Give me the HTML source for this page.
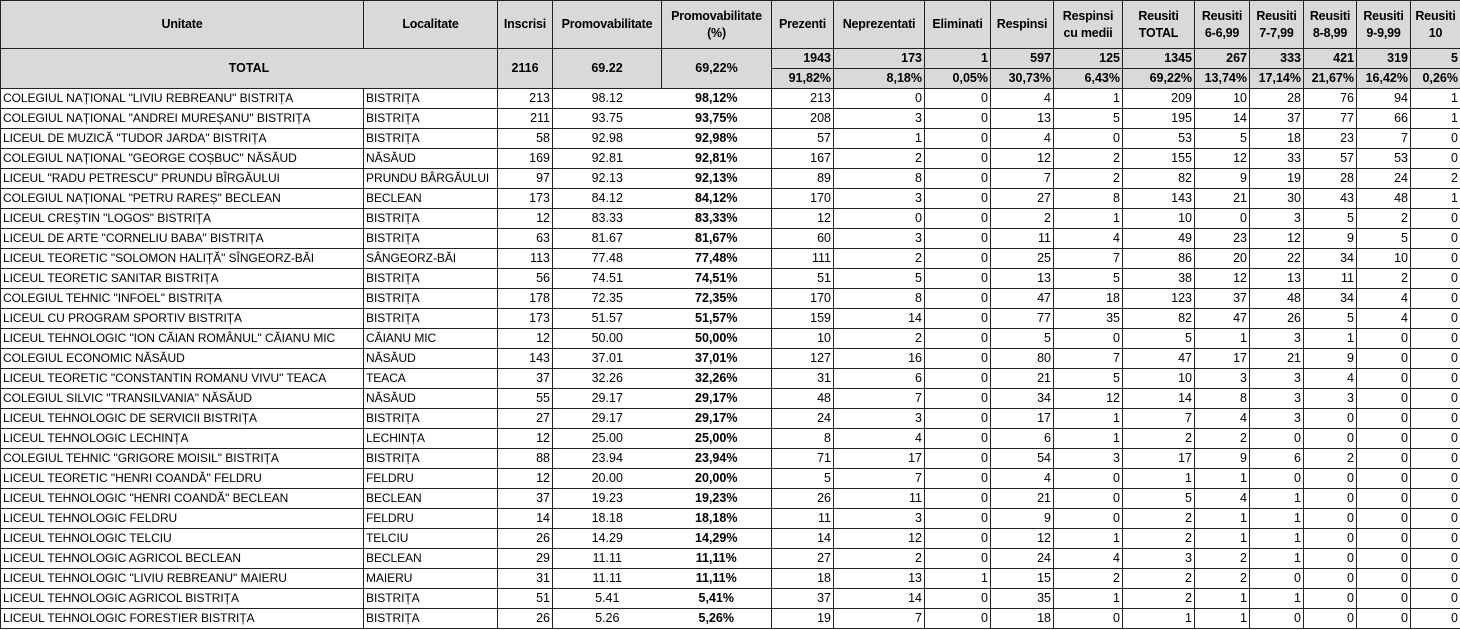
<!DOCTYPE html>
<html><head><meta charset="utf-8"><style>
html,body{margin:0;padding:0;background:#fff;width:1460px;height:630px;overflow:hidden}
table{border-collapse:collapse;table-layout:fixed;width:1460px;font-family:"Liberation Sans",sans-serif;font-size:12.5px;color:#000}
td{border:1px solid #222;padding:0 2px;height:19px;line-height:19px;white-space:nowrap;overflow:hidden;text-align:right}
thead td{background:#d9d9d9;font-weight:bold;text-align:center;line-height:17px;font-size:12.5px;letter-spacing:-0.2px}
tr.t td{background:#d9d9d9;font-weight:bold;font-size:12.5px}
td.l{text-align:left;font-size:12px;letter-spacing:-0.05px}
td.c{text-align:center}
td.b{text-align:center;font-weight:bold}
tbody td.nb{border-right:none}
tbody td.nl{border-left:none}
</style></head><body>
<table>
<colgroup><col style="width:363px"><col style="width:134px"><col style="width:55px"><col style="width:109px"><col style="width:110px"><col style="width:62px"><col style="width:91px"><col style="width:66px"><col style="width:63px"><col style="width:69px"><col style="width:72px"><col style="width:55px"><col style="width:54px"><col style="width:53px"><col style="width:54px"><col style="width:50px"></colgroup>
<thead><tr style="height:48px"><td>Unitate</td><td>Localitate</td><td>Inscrisi</td><td>Promovabilitate</td><td>Promovabilitate<br>(%)</td><td>Prezenti</td><td>Neprezentati</td><td>Eliminati</td><td>Respinsi</td><td>Respinsi<br>cu medii</td><td>Reusiti<br>TOTAL</td><td>Reusiti<br>6-6,99</td><td>Reusiti<br>7-7,99</td><td>Reusiti<br>8-8,99</td><td>Reusiti<br>9-9,99</td><td>Reusiti<br>10</td></tr></thead>
<tbody>
<tr class="t"><td colspan="2" rowspan="2" class="c">TOTAL</td><td rowspan="2" class="c">2116</td><td rowspan="2" class="c">69.22</td><td rowspan="2" class="c">69,22%</td><td>1943</td><td>173</td><td>1</td><td>597</td><td>125</td><td>1345</td><td>267</td><td>333</td><td>421</td><td>319</td><td>5</td></tr>
<tr class="t"><td>91,82%</td><td>8,18%</td><td>0,05%</td><td>30,73%</td><td>6,43%</td><td>69,22%</td><td>13,74%</td><td>17,14%</td><td>21,67%</td><td>16,42%</td><td>0,26%</td></tr>
<tr><td class="l">COLEGIUL NAȚIONAL "LIVIU REBREANU" BISTRIȚA</td><td class="l">BISTRIȚA</td><td>213</td><td class="c nb">98.12</td><td class="b nl">98,12%</td><td>213</td><td>0</td><td>0</td><td>4</td><td>1</td><td>209</td><td>10</td><td>28</td><td>76</td><td>94</td><td>1</td></tr>
<tr><td class="l">COLEGIUL NAȚIONAL "ANDREI MUREȘANU" BISTRIȚA</td><td class="l">BISTRIȚA</td><td>211</td><td class="c nb">93.75</td><td class="b nl">93,75%</td><td>208</td><td>3</td><td>0</td><td>13</td><td>5</td><td>195</td><td>14</td><td>37</td><td>77</td><td>66</td><td>1</td></tr>
<tr><td class="l">LICEUL DE MUZICĂ "TUDOR JARDA" BISTRIȚA</td><td class="l">BISTRIȚA</td><td>58</td><td class="c nb">92.98</td><td class="b nl">92,98%</td><td>57</td><td>1</td><td>0</td><td>4</td><td>0</td><td>53</td><td>5</td><td>18</td><td>23</td><td>7</td><td>0</td></tr>
<tr><td class="l">COLEGIUL NAȚIONAL "GEORGE COȘBUC" NĂSĂUD</td><td class="l">NĂSĂUD</td><td>169</td><td class="c nb">92.81</td><td class="b nl">92,81%</td><td>167</td><td>2</td><td>0</td><td>12</td><td>2</td><td>155</td><td>12</td><td>33</td><td>57</td><td>53</td><td>0</td></tr>
<tr><td class="l">LICEUL "RADU PETRESCU" PRUNDU BÎRGĂULUI</td><td class="l">PRUNDU BÂRGĂULUI</td><td>97</td><td class="c nb">92.13</td><td class="b nl">92,13%</td><td>89</td><td>8</td><td>0</td><td>7</td><td>2</td><td>82</td><td>9</td><td>19</td><td>28</td><td>24</td><td>2</td></tr>
<tr><td class="l">COLEGIUL NAȚIONAL "PETRU RAREȘ" BECLEAN</td><td class="l">BECLEAN</td><td>173</td><td class="c nb">84.12</td><td class="b nl">84,12%</td><td>170</td><td>3</td><td>0</td><td>27</td><td>8</td><td>143</td><td>21</td><td>30</td><td>43</td><td>48</td><td>1</td></tr>
<tr><td class="l">LICEUL CREȘTIN "LOGOS" BISTRIȚA</td><td class="l">BISTRIȚA</td><td>12</td><td class="c nb">83.33</td><td class="b nl">83,33%</td><td>12</td><td>0</td><td>0</td><td>2</td><td>1</td><td>10</td><td>0</td><td>3</td><td>5</td><td>2</td><td>0</td></tr>
<tr><td class="l">LICEUL DE ARTE "CORNELIU BABA" BISTRIȚA</td><td class="l">BISTRIȚA</td><td>63</td><td class="c nb">81.67</td><td class="b nl">81,67%</td><td>60</td><td>3</td><td>0</td><td>11</td><td>4</td><td>49</td><td>23</td><td>12</td><td>9</td><td>5</td><td>0</td></tr>
<tr><td class="l">LICEUL TEORETIC "SOLOMON HALIȚĂ" SÎNGEORZ-BĂI</td><td class="l">SÂNGEORZ-BĂI</td><td>113</td><td class="c nb">77.48</td><td class="b nl">77,48%</td><td>111</td><td>2</td><td>0</td><td>25</td><td>7</td><td>86</td><td>20</td><td>22</td><td>34</td><td>10</td><td>0</td></tr>
<tr><td class="l">LICEUL TEORETIC SANITAR BISTRIȚA</td><td class="l">BISTRIȚA</td><td>56</td><td class="c nb">74.51</td><td class="b nl">74,51%</td><td>51</td><td>5</td><td>0</td><td>13</td><td>5</td><td>38</td><td>12</td><td>13</td><td>11</td><td>2</td><td>0</td></tr>
<tr><td class="l">COLEGIUL TEHNIC "INFOEL" BISTRIȚA</td><td class="l">BISTRIȚA</td><td>178</td><td class="c nb">72.35</td><td class="b nl">72,35%</td><td>170</td><td>8</td><td>0</td><td>47</td><td>18</td><td>123</td><td>37</td><td>48</td><td>34</td><td>4</td><td>0</td></tr>
<tr><td class="l">LICEUL CU PROGRAM SPORTIV BISTRIȚA</td><td class="l">BISTRIȚA</td><td>173</td><td class="c nb">51.57</td><td class="b nl">51,57%</td><td>159</td><td>14</td><td>0</td><td>77</td><td>35</td><td>82</td><td>47</td><td>26</td><td>5</td><td>4</td><td>0</td></tr>
<tr><td class="l">LICEUL TEHNOLOGIC "ION CĂIAN ROMÂNUL" CĂIANU MIC</td><td class="l">CĂIANU MIC</td><td>12</td><td class="c nb">50.00</td><td class="b nl">50,00%</td><td>10</td><td>2</td><td>0</td><td>5</td><td>0</td><td>5</td><td>1</td><td>3</td><td>1</td><td>0</td><td>0</td></tr>
<tr><td class="l">COLEGIUL ECONOMIC NĂSĂUD</td><td class="l">NĂSĂUD</td><td>143</td><td class="c nb">37.01</td><td class="b nl">37,01%</td><td>127</td><td>16</td><td>0</td><td>80</td><td>7</td><td>47</td><td>17</td><td>21</td><td>9</td><td>0</td><td>0</td></tr>
<tr><td class="l">LICEUL TEORETIC "CONSTANTIN ROMANU VIVU" TEACA</td><td class="l">TEACA</td><td>37</td><td class="c nb">32.26</td><td class="b nl">32,26%</td><td>31</td><td>6</td><td>0</td><td>21</td><td>5</td><td>10</td><td>3</td><td>3</td><td>4</td><td>0</td><td>0</td></tr>
<tr><td class="l">COLEGIUL SILVIC "TRANSILVANIA" NĂSĂUD</td><td class="l">NĂSĂUD</td><td>55</td><td class="c nb">29.17</td><td class="b nl">29,17%</td><td>48</td><td>7</td><td>0</td><td>34</td><td>12</td><td>14</td><td>8</td><td>3</td><td>3</td><td>0</td><td>0</td></tr>
<tr><td class="l">LICEUL TEHNOLOGIC DE SERVICII BISTRIȚA</td><td class="l">BISTRIȚA</td><td>27</td><td class="c nb">29.17</td><td class="b nl">29,17%</td><td>24</td><td>3</td><td>0</td><td>17</td><td>1</td><td>7</td><td>4</td><td>3</td><td>0</td><td>0</td><td>0</td></tr>
<tr><td class="l">LICEUL TEHNOLOGIC LECHINȚA</td><td class="l">LECHINȚA</td><td>12</td><td class="c nb">25.00</td><td class="b nl">25,00%</td><td>8</td><td>4</td><td>0</td><td>6</td><td>1</td><td>2</td><td>2</td><td>0</td><td>0</td><td>0</td><td>0</td></tr>
<tr><td class="l">COLEGIUL TEHNIC "GRIGORE MOISIL" BISTRIȚA</td><td class="l">BISTRIȚA</td><td>88</td><td class="c nb">23.94</td><td class="b nl">23,94%</td><td>71</td><td>17</td><td>0</td><td>54</td><td>3</td><td>17</td><td>9</td><td>6</td><td>2</td><td>0</td><td>0</td></tr>
<tr><td class="l">LICEUL TEORETIC "HENRI COANDĂ" FELDRU</td><td class="l">FELDRU</td><td>12</td><td class="c nb">20.00</td><td class="b nl">20,00%</td><td>5</td><td>7</td><td>0</td><td>4</td><td>0</td><td>1</td><td>1</td><td>0</td><td>0</td><td>0</td><td>0</td></tr>
<tr><td class="l">LICEUL TEHNOLOGIC "HENRI COANDĂ" BECLEAN</td><td class="l">BECLEAN</td><td>37</td><td class="c nb">19.23</td><td class="b nl">19,23%</td><td>26</td><td>11</td><td>0</td><td>21</td><td>0</td><td>5</td><td>4</td><td>1</td><td>0</td><td>0</td><td>0</td></tr>
<tr><td class="l">LICEUL TEHNOLOGIC FELDRU</td><td class="l">FELDRU</td><td>14</td><td class="c nb">18.18</td><td class="b nl">18,18%</td><td>11</td><td>3</td><td>0</td><td>9</td><td>0</td><td>2</td><td>1</td><td>1</td><td>0</td><td>0</td><td>0</td></tr>
<tr><td class="l">LICEUL TEHNOLOGIC TELCIU</td><td class="l">TELCIU</td><td>26</td><td class="c nb">14.29</td><td class="b nl">14,29%</td><td>14</td><td>12</td><td>0</td><td>12</td><td>1</td><td>2</td><td>1</td><td>1</td><td>0</td><td>0</td><td>0</td></tr>
<tr><td class="l">LICEUL TEHNOLOGIC AGRICOL BECLEAN</td><td class="l">BECLEAN</td><td>29</td><td class="c nb">11.11</td><td class="b nl">11,11%</td><td>27</td><td>2</td><td>0</td><td>24</td><td>4</td><td>3</td><td>2</td><td>1</td><td>0</td><td>0</td><td>0</td></tr>
<tr><td class="l">LICEUL TEHNOLOGIC "LIVIU REBREANU" MAIERU</td><td class="l">MAIERU</td><td>31</td><td class="c nb">11.11</td><td class="b nl">11,11%</td><td>18</td><td>13</td><td>1</td><td>15</td><td>2</td><td>2</td><td>2</td><td>0</td><td>0</td><td>0</td><td>0</td></tr>
<tr><td class="l">LICEUL TEHNOLOGIC AGRICOL BISTRIȚA</td><td class="l">BISTRIȚA</td><td>51</td><td class="c nb">5.41</td><td class="b nl">5,41%</td><td>37</td><td>14</td><td>0</td><td>35</td><td>1</td><td>2</td><td>1</td><td>1</td><td>0</td><td>0</td><td>0</td></tr>
<tr><td class="l">LICEUL TEHNOLOGIC FORESTIER BISTRIȚA</td><td class="l">BISTRIȚA</td><td>26</td><td class="c nb">5.26</td><td class="b nl">5,26%</td><td>19</td><td>7</td><td>0</td><td>18</td><td>0</td><td>1</td><td>1</td><td>0</td><td>0</td><td>0</td><td>0</td></tr>
</tbody></table>
</body></html>
